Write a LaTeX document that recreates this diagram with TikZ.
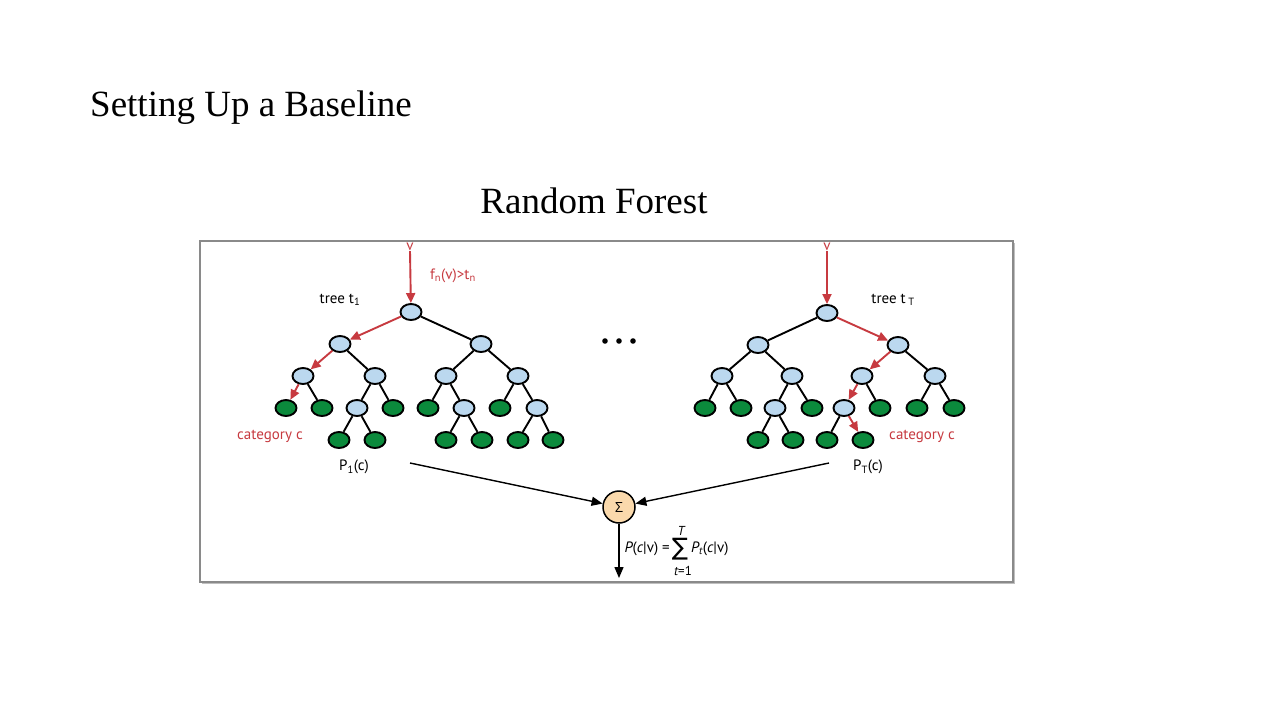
\documentclass[tikz,border=0pt]{standalone}
\usepackage{fontspec}
\setmainfont{Liberation Serif}
\newfontfamily\figfont{PT Sans}
\newfontfamily\greekfont{Open Sans}
\newfontfamily\symfont{DejaVu Sans}
\usetikzlibrary{arrows.meta,shapes.geometric}
\definecolor{nodeblue}{HTML}{BBD8EF}
\definecolor{leafgreen}{HTML}{0B8A3C}
\definecolor{pathred}{HTML}{C73A40}
\definecolor{sumfill}{HTML}{FAD9AC}
\definecolor{framegray}{HTML}{8A8A8A}
\tikzset{
  inner/.style={ellipse, draw=black, line width=1.9pt, minimum width=21pt, minimum height=16pt, inner sep=0pt, fill=nodeblue},
  leaf/.style={inner, fill=leafgreen},
  edge/.style={draw=black, line width=1.9pt},
  redpath/.style={draw=pathred, line width=1.9pt, -{Triangle[length=10pt,width=9pt]}},
  sumarrow/.style={draw=black, line width=1.4pt, -{Triangle[length=11pt,width=9pt]}},
  figtext/.style={font=\figfont\fontsize{15}{17}\selectfont, inner sep=0pt},
  redtext/.style={figtext, text=pathred},
  heading/.style={font=\fontsize{37}{44}\selectfont, inner sep=0pt},
}
\begin{document}
\begin{tikzpicture}[x=1pt,y=-1pt]
\useasboundingbox (0,0) rectangle (1280,720);
\fill[white] (0,0) rectangle (1280,720);

% slide headings
\node[heading, anchor=base west] (title) at (90,116) {Setting Up a Baseline};
\node[heading, anchor=base] (subtitle) at (594,213) {Random Forest};

% figure frame with soft shadow
\fill[black!25] (202,243) rectangle (1015,584);
\draw[framegray, line width=1.8pt, fill=white] (200,241) rectangle (1013,582);

% ---------- tree t_1 ----------
\node[inner] (L0) at (411,312) {};
\node[inner] (L1a) at (340,344) {};
\node[inner] (L1b) at (481,344) {};
\node[inner] (L2a) at (303,376) {};
\node[inner] (L2b) at (375,376) {};
\node[inner] (L2c) at (446,376) {};
\node[inner] (L2d) at (518,376) {};
\node[leaf]  (L3a) at (286,408) {};
\node[leaf]  (L3b) at (322,408) {};
\node[inner] (L3c) at (357,408) {};
\node[leaf]  (L3d) at (393,408) {};
\node[leaf]  (L3e) at (428,408) {};
\node[inner] (L3f) at (464,408) {};
\node[leaf]  (L3g) at (500,408) {};
\node[inner] (L3h) at (537,408) {};
\node[leaf]  (L4a) at (339,440) {};
\node[leaf]  (L4b) at (375,440) {};
\node[leaf]  (L4c) at (446,440) {};
\node[leaf]  (L4d) at (482,440) {};
\node[leaf]  (L4e) at (518,440) {};
\node[leaf]  (L4f) at (553,440) {};

\path[edge] (L0) -- (L1b);
\path[edge] (L1a) -- (L2b);
\path[edge] (L1b) -- (L2c);
\path[edge] (L1b) -- (L2d);
\path[edge] (L2a) -- (L3b);
\path[edge] (L2b) -- (L3c);
\path[edge] (L2b) -- (L3d);
\path[edge] (L2c) -- (L3e);
\path[edge] (L2c) -- (L3f);
\path[edge] (L2d) -- (L3g);
\path[edge] (L2d) -- (L3h);
\path[edge] (L3c) -- (L4a);
\path[edge] (L3c) -- (L4b);
\path[edge] (L3f) -- (L4c);
\path[edge] (L3f) -- (L4d);
\path[edge] (L3h) -- (L4e);
\path[edge] (L3h) -- (L4f);
\path[redpath] (L0) -- (L1a);
\path[redpath] (L1a) -- (L2a);
\path[redpath] (L2a) -- (L3a);

\node[redtext] (vL) at (410,247) {v};
\path[redpath] (vL.south) -- (L0);
\node[redtext, anchor=west] (split) at (430,276) {f\textsubscript{n}(v)>t\textsubscript{n}};
\node[figtext] (treeL) at (340,300) {tree t\textsubscript{1}};
\node[redtext] (catL) at (270,436) {category c};
\node[figtext] (PL) at (354,467) {P\textsubscript{1}(c)};

% ---------- tree t_T ----------
\node[inner] (R0) at (827,313) {};
\node[inner] (R1a) at (758,345) {};
\node[inner] (R1b) at (898,345) {};
\node[inner] (R2a) at (722,376) {};
\node[inner] (R2b) at (792,376) {};
\node[inner] (R2c) at (862,376) {};
\node[inner] (R2d) at (935,376) {};
\node[leaf]  (R3a) at (705,408) {};
\node[leaf]  (R3b) at (741,408) {};
\node[inner] (R3c) at (775,408) {};
\node[leaf]  (R3d) at (812,408) {};
\node[inner] (R3e) at (844,408) {};
\node[leaf]  (R3f) at (880,408) {};
\node[leaf]  (R3g) at (917,408) {};
\node[leaf]  (R3h) at (954,408) {};
\node[leaf]  (R4a) at (758,440) {};
\node[leaf]  (R4b) at (793,440) {};
\node[leaf]  (R4c) at (827,440) {};
\node[leaf]  (R4d) at (863,440) {};

\path[edge] (R0) -- (R1a);
\path[edge] (R1a) -- (R2a);
\path[edge] (R1a) -- (R2b);
\path[edge] (R1b) -- (R2d);
\path[edge] (R2a) -- (R3a);
\path[edge] (R2a) -- (R3b);
\path[edge] (R2b) -- (R3c);
\path[edge] (R2b) -- (R3d);
\path[edge] (R2c) -- (R3f);
\path[edge] (R2d) -- (R3g);
\path[edge] (R2d) -- (R3h);
\path[edge] (R3c) -- (R4a);
\path[edge] (R3c) -- (R4b);
\path[edge] (R3e) -- (R4c);
\path[redpath] (R0) -- (R1b);
\path[redpath] (R1b) -- (R2c);
\path[redpath] (R2c) -- (R3e);
\path[redpath] (R3e) -- (R4d);

\node[redtext] (vR) at (827,247) {v};
\path[redpath] (vR.south) -- (R0);
\node[figtext] (treeR) at (893,300) {tree t\,\textsubscript{T}};
\node[redtext] (catR) at (922,436) {category c};
\node[figtext] (PR) at (868,467) {P\textsubscript{T}(c)};

% ellipsis between the trees
\foreach \i/\x in {1/605,2/619,3/633}
  \fill (\x,341) circle (2.8pt);

% ---------- averaging ----------
\node[circle, draw=black, line width=1.5pt, fill=sumfill, minimum size=32pt, inner sep=0pt, font=\greekfont\fontsize{14}{16}\selectfont] (sum) at (619,507) {Σ};
\coordinate (fromL) at (410,463);
\coordinate (fromR) at (829,463);
\coordinate (out) at (619,578);
\path[sumarrow] (fromL) -- (sum);
\path[sumarrow] (fromR) -- (sum);
\path[sumarrow] (sum) -- (out);

% averaged probability: P(c|v) = sum_{t=1}^{T} P_t(c|v)
\node[figtext, anchor=east] (fleft) at (670,549) {\itshape P\upshape(\itshape c\upshape|v) =};
\node[inner sep=0pt, font=\symfont\fontsize{24}{24}\selectfont] (bigsum) at (680,549) {∑};
\node[figtext, font=\figfont\itshape\fontsize{13}{15}\selectfont] (upper) at (681,531) {T};
\node[figtext, font=\figfont\fontsize{13}{15}\selectfont] (lower) at (683,571) {\itshape t\upshape=1};
\node[figtext, anchor=west] (fright) at (691,549) {\itshape P\textsubscript{t}\upshape(\itshape c\upshape|v)};
\end{tikzpicture}
\end{document}
